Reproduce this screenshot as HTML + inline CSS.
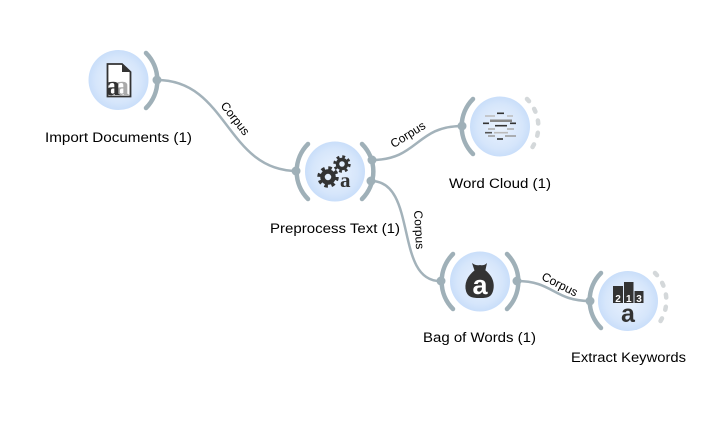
<!DOCTYPE html>
<html><head><meta charset="utf-8"><style>
html,body{margin:0;padding:0;background:#fff;width:719px;height:422px;overflow:hidden}
svg{display:block}
.l{font:13.500px "Liberation Sans",sans-serif;fill:#000}
.c{font:12px "Liberation Sans",sans-serif;fill:#000;text-anchor:middle}
.arc{fill:none;stroke:#9fb0b8;stroke-width:4.500;stroke-linecap:round}
.dash{fill:none;stroke:#d4d8da;stroke-width:4.500;stroke-linecap:round;stroke-dasharray:3 9.250}
.e{fill:none;stroke:#a3b2ba;stroke-width:2.500}
.p{fill:#9fb0b8}
.d{fill:#333}
</style></head><body>
<svg width="719" height="422" viewBox="0 0 719 422" xmlns="http://www.w3.org/2000/svg">
<defs><radialGradient id="g" cx="50%" cy="50%" r="50%"><stop offset="0" stop-color="#eaf2fd"/><stop offset="0.75" stop-color="#d6e6fb"/><stop offset="1" stop-color="#c9defa"/></radialGradient></defs>
<path class="e" d="M157,80 C228,80 226,171 297,171"/>
<path class="e" d="M372,160 C418,160 416,126 462,126"/>
<path class="e" d="M371,181 C418,181 394,281 440,281"/>
<path class="e" d="M517,281 C553,281 554,301 590,301"/>
<text class="c" transform="translate(232,121) rotate(52)">Corpus</text>
<text class="c" transform="translate(410,138) rotate(-32)">Corpus</text>
<text class="c" transform="translate(415,230) rotate(87)">Corpus</text>
<text class="c" transform="translate(558,288) rotate(27)">Corpus</text>
<circle cx="118.500" cy="80" r="30" fill="url(#g)"/>
<circle cx="335" cy="171.500" r="30" fill="url(#g)"/>
<circle cx="500" cy="126.500" r="30" fill="url(#g)"/>
<circle cx="480" cy="281.500" r="30" fill="url(#g)"/>
<circle cx="628" cy="301" r="30" fill="url(#g)"/>
<path class="arc" d="M146,53 A39,39 0 0 1 146,108"/>
<circle class="p" cx="157" cy="80" r="4.500"/>
<path class="arc" d="M308,144 A39,39 0 0 0 308,199"/>
<path class="arc" d="M362,144 A39,39 0 0 1 362,199"/>
<circle class="p" cx="296" cy="171" r="4.500"/><circle class="p" cx="372" cy="160" r="4.500"/><circle class="p" cx="371" cy="181" r="4.500"/>
<path class="arc" d="M473,99 A39,39 0 0 0 473,154"/>
<circle class="p" cx="462" cy="126" r="4.500"/>
<path class="dash" d="M527,99 A39,39 0 0 1 527,154"/>
<path class="arc" d="M453,254 A39,39 0 0 0 453,309"/>
<path class="arc" d="M507,254 A39,39 0 0 1 507,309"/>
<circle class="p" cx="441" cy="281" r="4.500"/><circle class="p" cx="517" cy="281" r="4.500"/>
<path class="arc" d="M601,273 A39,39 0 0 0 601,328"/>
<circle class="p" cx="590" cy="301" r="4.500"/>
<path class="dash" d="M655,273 A39,39 0 0 1 655,328"/>
<path d="M107.500,64 H122 L130.500,72 V96.500 H107.500 Z" fill="#fff" stroke="#333" stroke-width="1.800"/>
<path d="M122,63.500 L131,72 H122 Z" fill="#333"/>
<text x="115" y="95" font-family="Liberation Serif,serif" font-size="28" font-weight="bold" fill="#aaa">a</text>
<text x="106" y="95" font-family="Liberation Serif,serif" font-size="28" font-weight="bold" fill="#333">a</text>
<circle cx="328" cy="177" r="5.500" fill="none" stroke="#333" stroke-width="4.500"/>
<circle cx="328" cy="177" r="9" fill="none" stroke="#333" stroke-width="3.500" stroke-dasharray="3.500 3.570"/>
<circle cx="342" cy="164" r="4.500" fill="none" stroke="#333" stroke-width="3.500"/>
<circle cx="342" cy="164" r="7.200" fill="none" stroke="#333" stroke-width="3" stroke-dasharray="2.800 2.860"/>
<text x="340" y="187" font-family="Liberation Serif,serif" font-size="21" font-weight="bold" fill="#333">a</text>
<g stroke-width="1.600">
<path d="M497,113.300 H504" stroke="#333"/><path d="M485,116 H495 M507,116 H513" stroke="#bbb"/>
<path d="M490,120.700 H512" stroke="#888" stroke-width="2.500"/><path d="M483,123.300 H489 M510,123.300 H516" stroke="#333"/>
<path d="M495,125.700 H507" stroke="#333"/><path d="M488,129 H495 M507,129 H514" stroke="#aaa"/>
<path d="M485,132.700 H492" stroke="#555"/><path d="M494,132.700 H508" stroke="#bbb"/>
<path d="M488,136 H495 M505,136 H516" stroke="#999"/><path d="M497,139 H503" stroke="#333"/>
</g>
<path class="d" d="M472,263 Q476,266 480,265 Q484,266 487,263 L485,272 H475 Z"/>
<path class="d" d="M475,270 H485 C493,276 495,284 493,291 C491,298 486,298 480,298 C474,298 468,298 466,291 C464,284 467,276 475,270 Z"/>
<text x="480" y="294" text-anchor="middle" font-family="Liberation Sans,sans-serif" font-size="27" font-weight="bold" fill="#fff">a</text>
<rect x="613" y="286" width="10" height="17" fill="#333"/>
<rect x="624" y="282" width="9.500" height="21" fill="#333"/>
<rect x="634.500" y="291" width="9" height="12" fill="#333"/>
<text x="618" y="302" text-anchor="middle" font-family="Liberation Sans,sans-serif" font-size="10" font-weight="bold" fill="#fff">2</text>
<text x="628.800" y="302" text-anchor="middle" font-family="Liberation Sans,sans-serif" font-size="10" font-weight="bold" fill="#fff">1</text>
<text x="639" y="302" text-anchor="middle" font-family="Liberation Sans,sans-serif" font-size="10" font-weight="bold" fill="#fff">3</text>
<text x="628" y="322" text-anchor="middle" font-family="Liberation Sans,sans-serif" font-size="25" font-weight="bold" fill="#333">a</text>
<text class="l" x="45" y="142" textLength="147" lengthAdjust="spacingAndGlyphs">Import Documents (1)</text>
<text class="l" x="270" y="233" textLength="130" lengthAdjust="spacingAndGlyphs">Preprocess Text (1)</text>
<text class="l" x="449" y="188" textLength="102" lengthAdjust="spacingAndGlyphs">Word Cloud (1)</text>
<text class="l" x="423" y="342" textLength="113" lengthAdjust="spacingAndGlyphs">Bag of Words (1)</text>
<text class="l" x="571" y="362" textLength="115" lengthAdjust="spacingAndGlyphs">Extract Keywords</text>
</svg>
</body></html>
